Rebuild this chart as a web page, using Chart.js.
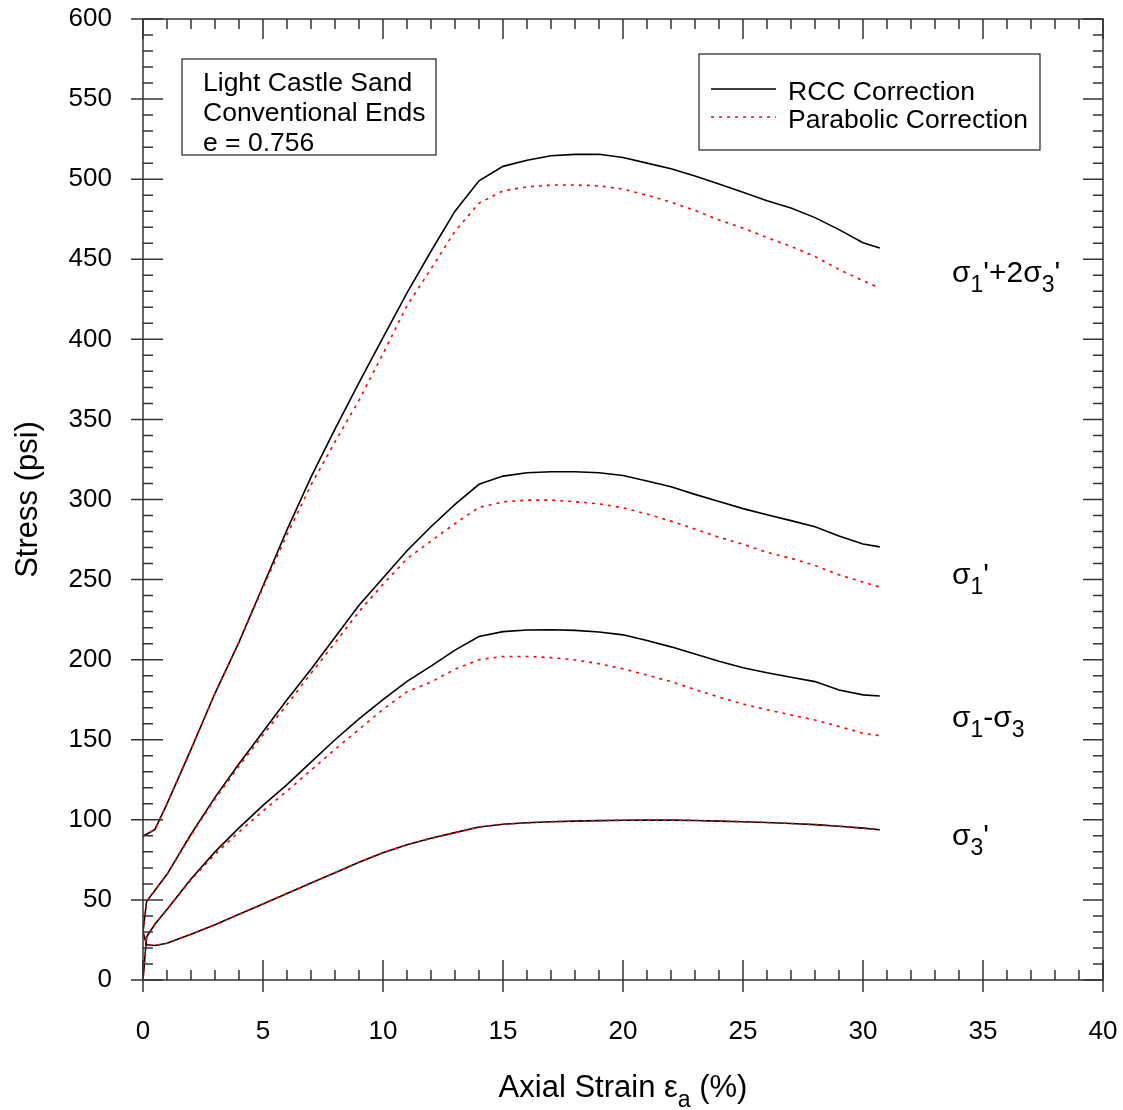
<!DOCTYPE html>
<html>
<head>
<meta charset="utf-8">
<script src="https://cdn.jsdelivr.net/npm/chart.js@4.4.1/dist/chart.umd.min.js"></script>
<style>
  html, body { margin: 0; padding: 0; background: #fff; }
</style>
</head>
<body>
<canvas id="chart" width="1123" height="1110"></canvas>
<script>
// axial strain (%) sample points shared by all curves
const strain = [0, 0.15, 0.5, 1, 2, 3, 4, 5, 6, 7, 8, 9, 10, 11, 12, 13, 14, 15, 16, 17, 18, 19, 20,
  21, 22, 23, 24, 25, 26, 27, 28, 29, 30, 30.7];

// RCC correction (solid black)
const sumRcc = [90, 91, 94, 110, 144, 179, 211, 246, 281, 314, 344, 373, 401, 429, 455, 480, 499, 508,
  511.8, 514.6, 515.5, 515.6, 513.5, 510, 506.5, 502, 497, 491.8, 486.5, 482, 476, 468.5, 460.3, 457];
const s1Rcc = [30, 49, 56, 66, 91, 114, 135, 155, 175, 194, 214, 234, 251, 268, 283, 297, 309.5, 314.6,
  316.7, 317.3, 317.3, 316.7, 315, 311.5, 307.9, 303.2, 298.7, 294.3, 290.5, 286.8, 283, 277.2, 272.2, 270.4];
const devRcc = [0, 27, 35, 44, 63, 80, 95, 109, 122, 136, 150, 163, 175, 186.5, 196, 206, 214.5, 217.5,
  218.5, 218.7, 218.3, 217.3, 215.5, 212, 208, 203.5, 199, 195, 191.8, 189, 186.3, 181, 178, 177.3];
const s3Rcc = [30, 22, 21.5, 23, 28.5, 34.5, 41, 47.5, 54, 60.5, 67, 73.5, 79.5, 84.5, 88.5, 92, 95.5, 97.2,
  98.2, 98.8, 99.2, 99.5, 99.7, 99.8, 99.8, 99.6, 99.2, 98.8, 98.3, 97.7, 97, 96, 94.8, 93.8];

// parabolic correction (dotted red)
const sumPar = [90, 91, 94, 110, 144, 179, 211, 245, 278, 309, 336, 362, 391, 421, 444, 467.5, 485, 492.7,
  495.2, 496.3, 496.4, 495.8, 493.8, 490, 485.6, 480.5, 474.5, 469.5, 463.5, 458, 451.7, 443.6, 436.6, 432];
const s1Par = [30, 49, 56, 66, 90.5, 113, 133.5, 153, 172, 191.5, 210.5, 230, 247, 263, 274, 285, 295, 298.5,
  299.6, 299.6, 298.6, 297.3, 294.8, 291, 286.5, 281.5, 276.5, 272, 267, 263.3, 258.8, 253, 248.5, 245.3];
const devPar = [0, 27, 35, 44, 62.5, 78.5, 92.5, 105.5, 118, 131, 144, 156.5, 169, 180, 186, 194, 200, 202,
  202, 201.3, 199.8, 197.5, 194.3, 190.4, 186.3, 181.4, 176.6, 172.3, 168.7, 165.5, 162.3, 158.3, 154, 152.5];
const s3Par = s3Rcc;

const xTicks = [0, 5, 10, 15, 20, 25, 30, 35, 40];
const yTicks = [0, 50, 100, 150, 200, 250, 300, 350, 400, 450, 500, 550, 600];

const FONT = 'Arial, "Liberation Sans", sans-serif';
const pts = (ys) => strain.map((x, i) => ({ x, y: ys[i] }));

const solid = (ys) => ({
  data: pts(ys), borderColor: '#000', borderWidth: 1.6, pointRadius: 0, order: 1,
});
const dotted = (ys) => ({
  data: pts(ys), borderColor: '#ff0000', borderWidth: 1.6, borderDash: [3, 5], pointRadius: 0, order: 0,
});

// draws a label made of normal and subscript pieces
function richText(ctx, parts, x, y, size, align) {
  const sub = Math.round(size * 0.75);
  let w = 0;
  parts.forEach(([t, s]) => {
    ctx.font = `${s ? sub : size}px ${FONT}`;
    w += ctx.measureText(t).width;
  });
  let cx = align === 'center' ? x - w / 2 : x;
  parts.forEach(([t, s]) => {
    ctx.font = `${s ? sub : size}px ${FONT}`;
    ctx.fillText(t, cx, s ? y + size * 0.33 : y);
    cx += ctx.measureText(t).width;
  });
}

const decor = {
  id: 'decor',
  afterDraw(chart) {
    const { ctx, chartArea: a, scales: { x, y } } = chart;
    ctx.save();
    ctx.strokeStyle = '#333';
    ctx.lineWidth = 1.5;
    ctx.strokeRect(a.left, a.top, a.right - a.left, a.bottom - a.top);

    ctx.beginPath();
    for (let v = 0; v <= 40; v++) {
      const px = x.getPixelForValue(v);
      const major = v % 5 === 0;
      const len = major ? 20 : 10;
      ctx.moveTo(px, a.bottom + (major ? 12 : 0));
      ctx.lineTo(px, a.bottom - len);
      ctx.moveTo(px, a.top);
      ctx.lineTo(px, a.top + len);
    }
    for (let v = 0; v <= 600; v += 10) {
      const py = y.getPixelForValue(v);
      const major = v % 50 === 0;
      const len = major ? 20 : 10;
      ctx.moveTo(a.left - (major ? 12 : 0), py);
      ctx.lineTo(a.left + len, py);
      ctx.moveTo(a.right, py);
      ctx.lineTo(a.right - len, py);
    }
    ctx.stroke();

    ctx.fillStyle = '#000';
    ctx.textBaseline = 'alphabetic';
    ctx.textAlign = 'left';

    // info box
    ctx.lineWidth = 1.2;
    ctx.strokeStyle = '#222';
    ctx.strokeRect(182, 59, 254, 96);
    ctx.font = `26.5px ${FONT}`;
    ctx.fillText('Light Castle Sand', 203, 91);
    ctx.fillText('Conventional Ends', 203, 121);
    ctx.fillText('e = 0.756', 203, 151);

    // legend
    ctx.strokeRect(699, 54, 341, 96);
    ctx.beginPath();
    ctx.strokeStyle = '#000';
    ctx.lineWidth = 1.6;
    ctx.moveTo(711, 89); ctx.lineTo(776, 89);
    ctx.stroke();
    ctx.beginPath();
    ctx.strokeStyle = '#ff0000';
    ctx.setLineDash([3, 5]);
    ctx.moveTo(711, 117); ctx.lineTo(776, 117);
    ctx.stroke();
    ctx.setLineDash([]);
    ctx.fillText('RCC Correction', 788, 100);
    ctx.fillText('Parabolic Correction', 788, 128);

    // curve labels
    richText(ctx, [['σ', 0], ['1', 1], ["'+2σ", 0], ['3', 1], ["'", 0]], 952, 282, 30);
    richText(ctx, [['σ', 0], ['1', 1], ["'", 0]], 952, 584, 30);
    richText(ctx, [['σ', 0], ['1', 1], ['-σ', 0], ['3', 1]], 952, 727, 30);
    richText(ctx, [['σ', 0], ['3', 1], ["'", 0]], 952, 845, 30);

    // axis titles
    richText(ctx, [['Axial Strain ε', 0], ['a', 1], [' (%)', 0]], (a.left + a.right) / 2, 1097, 31, 'center');
    ctx.translate(28, (a.top + a.bottom) / 2);
    ctx.rotate(-Math.PI / 2);
    ctx.textAlign = 'center';
    ctx.textBaseline = 'middle';
    ctx.font = `31px ${FONT}`;
    ctx.fillText('Stress (psi)', 0, 0);
    ctx.restore();
  },
};

new Chart(document.getElementById('chart'), {
  type: 'line',
  data: {
    datasets: [
      solid(sumRcc), solid(s1Rcc), solid(devRcc), solid(s3Rcc),
      dotted(sumPar), dotted(s1Par), dotted(devPar), dotted(s3Par),
    ],
  },
  options: {
    responsive: false,
    animation: false,
    devicePixelRatio: 1,
    layout: { padding: { left: 0, top: 19, right: 20, bottom: 0 } },
    elements: { line: { tension: 0 } },
    plugins: { legend: { display: false }, tooltip: { enabled: false } },
    scales: {
      x: {
        type: 'linear',
        min: 0,
        max: 40,
        afterFit: (s) => { s.height = 130; s.paddingLeft = 0; s.paddingRight = 0; },
        afterBuildTicks: (s) => { s.ticks = xTicks.map((value) => ({ value })); },
        grid: { display: false, drawTicks: false },
        border: { display: false },
        ticks: { color: '#000', padding: 36, maxRotation: 0, font: { family: FONT, size: 26 } },
      },
      y: {
        type: 'linear',
        min: 0,
        max: 600,
        afterFit: (s) => { s.width = 143; s.paddingTop = 0; s.paddingBottom = 0; },
        afterBuildTicks: (s) => { s.ticks = yTicks.map((value) => ({ value })); },
        grid: { display: false, drawTicks: false },
        border: { display: false },
        ticks: { color: '#000', padding: 31, font: { family: FONT, size: 26 } },
      },
    },
  },
  plugins: [decor],
});
</script>
</body>
</html>
